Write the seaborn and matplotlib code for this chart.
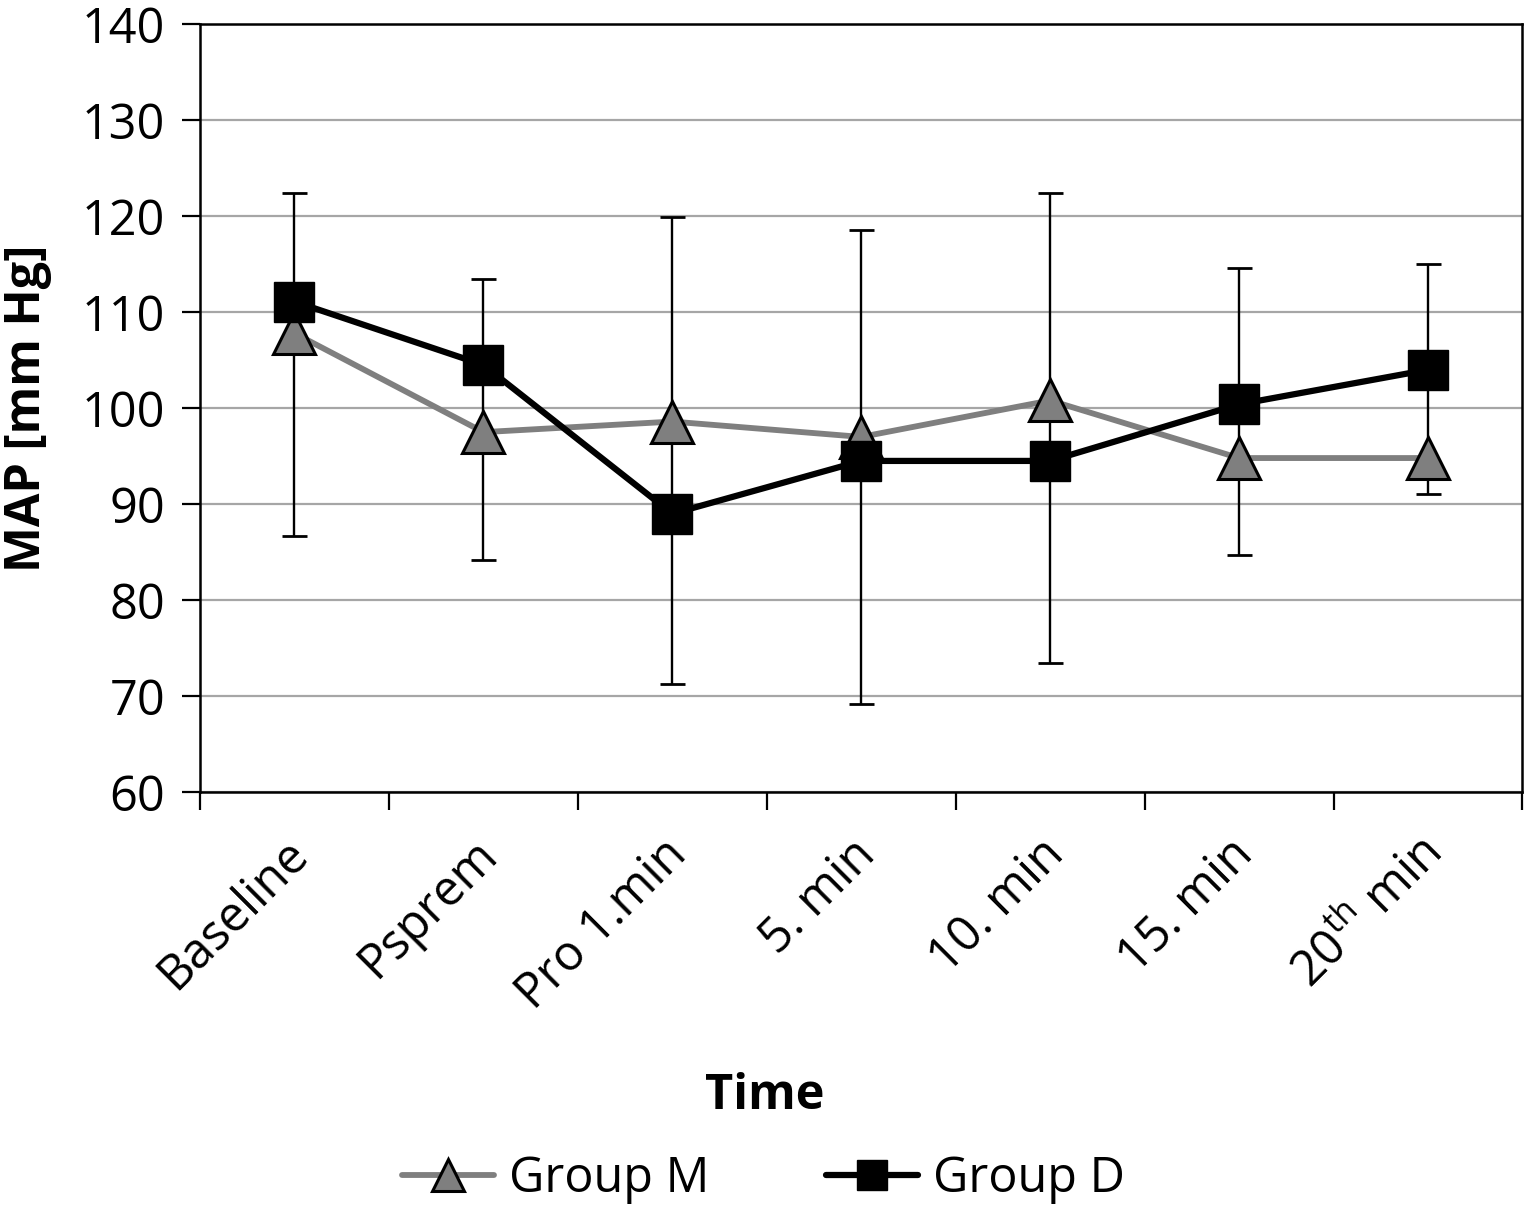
import matplotlib
matplotlib.use('Agg')
import matplotlib.pyplot as plt
import matplotlib.transforms as mtransforms
import numpy as np
import pandas as pd
import seaborn as sns

# --- data ---
time_points = ['Baseline', 'Psprem', 'Pro 1.min', '5. min', '10. min', '15. min',
               '20$^{\\mathregular{th}}$ min']
group_m = [107.8, 97.5, 98.6, 97.0, 100.8, 94.8, 94.8]
group_d = [111.1, 104.5, 89.0, 94.5, 94.5, 100.4, 104.0]
err_top = [122.4, 113.5, 119.9, 118.6, 122.4, 114.6, 115.0]
err_bottom = [86.7, 84.2, 71.3, 69.2, 73.4, 84.7, 91.1]

pos = np.arange(len(time_points))
df = pd.DataFrame({'pos': pos, 'Group M': group_m, 'Group D': group_d})

sns.set_style('white')
plt.rcParams['font.family'] = ['Open Sans', 'DejaVu Sans']
plt.rcParams['mathtext.fontset'] = 'custom'
plt.rcParams['mathtext.rm'] = 'Open Sans'
plt.rcParams['text.color'] = 'black'
plt.rcParams['axes.labelcolor'] = 'black'
plt.rcParams['xtick.color'] = 'black'
plt.rcParams['ytick.color'] = 'black'

fig = plt.figure(figsize=(15.27, 12.12), dpi=100)
ax = fig.add_axes([0.131, 0.3465, 0.866, 0.6335])

# error bars (drawn below the markers)
center = (np.array(err_top) + np.array(err_bottom)) / 2
yerr = [center - np.array(err_bottom), np.array(err_top) - center]
ax.errorbar(pos, center, yerr=yerr, fmt='none', ecolor='black', elinewidth=1.7,
            capsize=9, capthick=2.0, zorder=2)

sns.lineplot(data=df, x='pos', y='Group M', ax=ax, color='#7f7f7f', linewidth=4.2,
             marker='^', markersize=30, markerfacecolor='#7f7f7f',
             markeredgecolor='black', markeredgewidth=2.2, label='Group M', zorder=3)
sns.lineplot(data=df, x='pos', y='Group D', ax=ax, color='black', linewidth=4.5,
             marker='s', markersize=29, markerfacecolor='black',
             markeredgecolor='black', markeredgewidth=1, label='Group D', zorder=4)

ax.set_xlim(-0.5, len(time_points) - 0.5)
ax.set_ylim(60, 140)
ax.set_yticks(np.arange(60, 141, 10))
ax.yaxis.grid(True, color='#a6a6a6', lw=1.6)
ax.xaxis.grid(False)
ax.set_axisbelow(True)
for s in ax.spines.values():
    s.set_color('black')
    s.set_linewidth(1.8)

ax.tick_params(axis='y', direction='out', length=13, width=1.6, color='black',
               labelsize=35, pad=12, left=True)
ax.set_xticks(pos)
ax.set_xticks(np.arange(-0.5, len(time_points), 1), minor=True)
ax.tick_params(axis='x', which='major', length=0, labelsize=35, pad=40)
ax.tick_params(axis='x', which='minor', direction='out', length=13, width=1.6,
               color='black', bottom=True)
ax.set_xticklabels(time_points, rotation=45, ha='right', va='center',
                   rotation_mode='anchor')
shift = mtransforms.ScaledTranslation(5 / 72, 0, fig.dpi_scale_trans)
for lab in ax.get_xticklabels():
    lab.set_transform(lab.get_transform() + shift)

ax.set_xlabel('Time', fontsize=35, fontweight='bold')
ax.xaxis.set_label_coords(0.427, -0.365)
ax.set_ylabel('MAP [mm Hg]', fontsize=35, fontweight='bold')
ax.yaxis.set_label_coords(-0.112, 0.5)

handles, labels = ax.get_legend_handles_labels()
if ax.get_legend():
    ax.get_legend().remove()
fig.legend(handles, labels, loc='center', bbox_to_anchor=(0.5, 0.027), ncol=2,
           frameon=False, fontsize=35, handlelength=1.9, columnspacing=2.4,
           handletextpad=0.3, markerscale=0.75)

fig.savefig('out.png', dpi=100)
